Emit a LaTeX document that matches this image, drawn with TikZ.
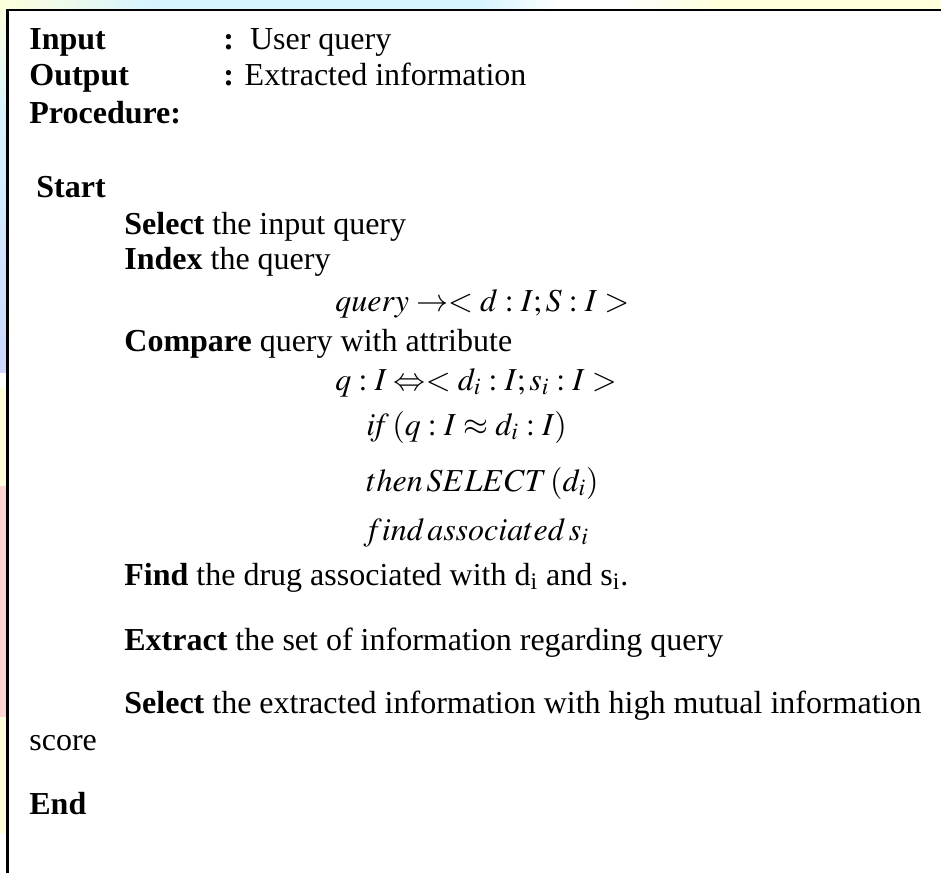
\documentclass[tikz,border=0pt]{standalone}
\usepackage{mathptmx}
\usepackage{fontspec}
\setmainfont{Liberation Serif}

\definecolor{bgyellow}{HTML}{FFFFDC}
\definecolor{bgcyan}{HTML}{D6F4FF}
\definecolor{bgblue}{HTML}{CCD6FF}
\definecolor{bgpink}{HTML}{FFD6D2}

\begin{document}
\begin{tikzpicture}[x=0.5pt, y=-0.5pt, inner sep=0pt,
  txt/.style={anchor=base west, font=\fontsize{16}{18}\selectfont},
  framebox/.style={draw, line width=1.1pt, fill=white}]
\useasboundingbox (0,0) rectangle (941,872);

% slide background behind the box
\fill[left color=bgyellow, right color=bgcyan] (0,0) rectangle (150,12);
\fill[bgcyan] (150,0) rectangle (480,12);
\fill[left color=bgcyan, right color=white] (480,0) rectangle (560,12);
\fill[left color=white, right color=bgyellow] (620,0) rectangle (720,12);
\fill[bgyellow] (720,0) rectangle (941,12);
\fill[top color=bgyellow, bottom color=bgcyan] (0,0) rectangle (10,120);
\fill[top color=bgcyan, bottom color=bgblue] (0,120) rectangle (10,372);
\fill[bgyellow] (0,388) rectangle (10,486);
\fill[bgpink] (0,486) rectangle (10,717);
\fill[bgyellow] (0,717) rectangle (10,833);

% the box (runs off the page at right and bottom)
\begin{scope}
\clip (0,0) rectangle (941,872);
\draw[framebox] (7.5,10) rectangle (960,900);
\end{scope}

% header
\node[txt] (inp) at (29,50) {\textbf{Input}};
\node[txt] (inpval) at (223,50) {\textbf{:}\ \ User query};
\node[txt] (outp) at (29,86) {\textbf{Output}};
\node[txt] (outpval) at (223,86) {\textbf{:} Extracted information};
\node[txt] (proc) at (29,123) {\textbf{Procedure:}};

% steps
\node[txt] (start) at (36,197) {\textbf{Start}};
\node[txt] (sel) at (124,234) {\textbf{Select} the input query};
\node[txt] (idx) at (124,269) {\textbf{Index} the query};
\node[txt] (qmap) at (335,311) {$query\rightarrow<d:I;S:I>$};
\node[txt] (cmp) at (124,351) {\textbf{Compare} query with attribute};
\node[txt] (qeq) at (335,390) {$q:I\Leftrightarrow<d_i:I;s_i:I>$};
\node[txt] (ifc) at (366,435) {$\mathit{if}\,(q:I\approx d_i:I)$};
\node[txt] (thenc) at (366,491) {$then\,SELECT\,(d_i)$};
\node[txt] (findc) at (368,540) {$\mathit{f}\mathit{ind}\,associated\,s_i$};
\node[txt] (drug) at (124,585) {\textbf{Find} the drug associated with d\textsubscript{i} and s\textsubscript{i}.};
\node[txt] (extr) at (124,650) {\textbf{Extract} the set of information regarding query};
\node[txt] (selx) at (124,713) {\textbf{Select} the extracted information with high mutual information};
\node[txt] (score) at (29,750) {score};
\node[txt] (fin) at (29,814) {\textbf{End}};
\end{tikzpicture}
\end{document}
